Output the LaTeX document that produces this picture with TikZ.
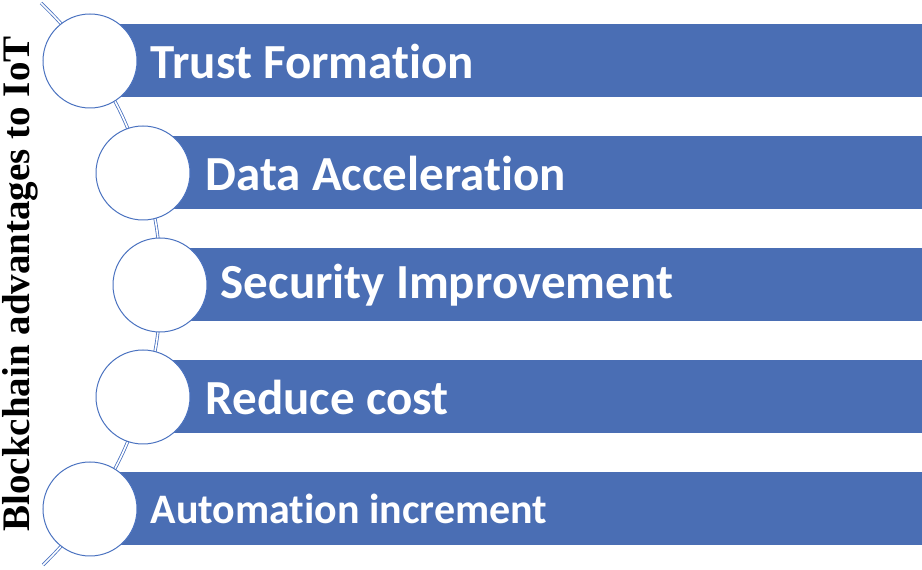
\documentclass[tikz,border=0pt]{standalone}
\usepackage{fontspec}
\setmainfont{Liberation Serif}
\newfontfamily\barfont[Ligatures=NoCommon]{Carlito}
\usepackage{tikz}
\usetikzlibrary{positioning}
\definecolor{myblue}{HTML}{4A6EB4}
\definecolor{ringblue}{HTML}{4A72C0}

\begin{document}
\begin{tikzpicture}[x=1pt,y=1pt]
	\tikzstyle{bar} = [anchor=west,shape=rectangle,fill=myblue,minimum height=73pt,inner sep=0]
	\tikzstyle{ring} = [shape=circle,draw=ringblue,line width=1pt,fill=white,minimum size=94pt,inner sep=0]
	\tikzstyle{label} = [anchor=west,text=white,inner sep=0,font=\barfont\bfseries\fontsize{49}{51}\selectfont]
	\tikzstyle{spine} = [draw=ringblue,double=white,double distance=1.6pt,line width=0.8pt]
	\useasboundingbox (0,0) rectangle (922,570);
	
	% bars
	\node [bar,minimum width=832pt] (b1) at (90,509) {};
	\node [bar,minimum width=779pt] (b2) at (143,397) {};
	\node [bar,minimum width=762pt] (b3) at (160,285) {};
	\node [bar,minimum width=779pt] (b4) at (143,173) {};
	\node [bar,minimum width=832pt] (b5) at (90,61) {};
	
	% spine behind the circles
	\coordinate (top) at (41,567);
	\coordinate (bot) at (43,5);
	\draw [spine] (top) to[bend left=5.5] (90,509) to[bend left=9] (143,397) to[bend left=9] (160,285)
		to[bend left=9] (143,173) to[bend left=9] (90,61) to[bend left=5.3] (bot);
	
	% circles
	\node [ring] (c1) at (90,509) {};
	\node [ring] (c2) at (143,397) {};
	\node [ring] (c3) at (160,285) {};
	\node [ring] (c4) at (143,173) {};
	\node [ring] (c5) at (90,61) {};
	
	\node [label,right=13pt of c1] (t1) {Trust Formation};
	\node [label,right=15pt of c2] (t2) {Data Acceleration};
	\node [label,right=13pt of c3] (t3) {Security Improvement};
	\node [label,right=15pt of c4] (t4) {Reduce cost};
	\node [label,right=13pt of c5,font=\barfont\bfseries\fontsize{42}{44}\selectfont] (t5) {Automation increment};
	
	\node [rotate=90,inner sep=0,font=\bfseries\fontsize{39}{42}\selectfont] (title) at (20,286) {Blockchain advantages to IoT};
\end{tikzpicture}
\end{document}
